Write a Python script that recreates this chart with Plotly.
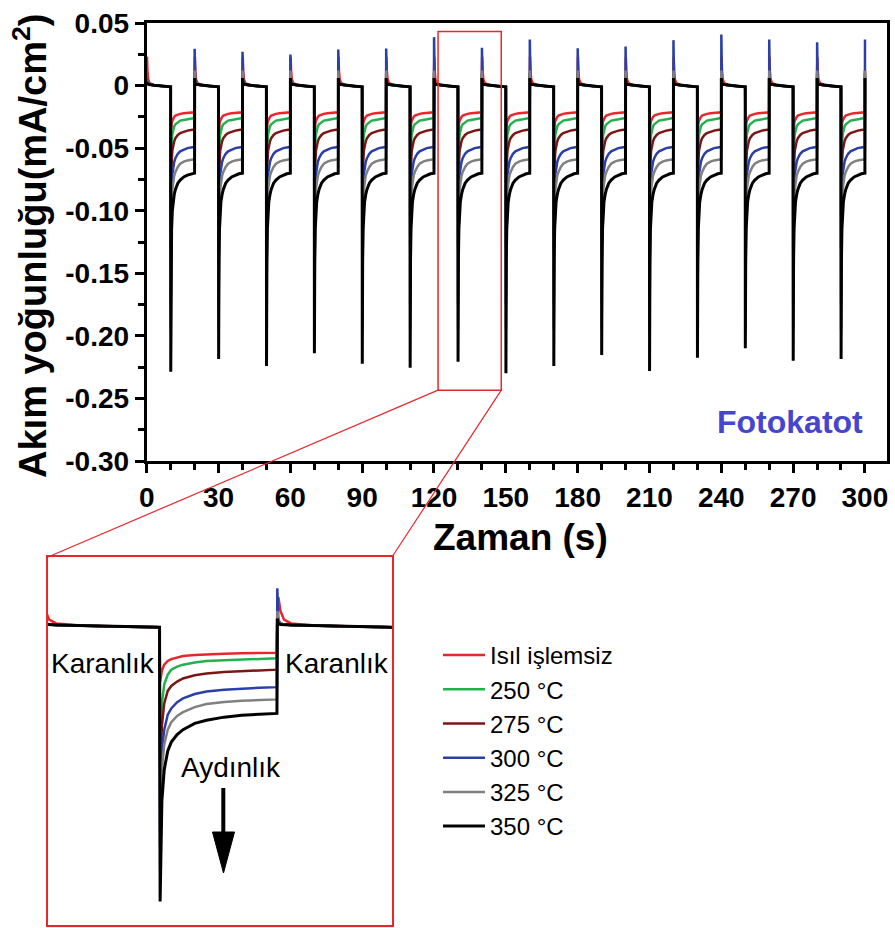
import plotly.graph_objects as go

W, H = 895, 928

# ---------------- data ----------------
series_names = ["Isıl işlemsiz", "250 °C", "275 °C", "300 °C", "325 °C", "350 °C"]
series_colors = ["#E8262B", "#22B14C", "#7A1616", "#2B3FA8", "#808080", "#000000"]

light_on = [10, 30, 50, 70, 90, 110, 130, 150, 170, 190, 210, 230, 250, 270, 290]
light_off = [20, 40, 60, 80, 100, 120, 140, 160, 180, 200, 220, 240, 260, 280, 300]

# black (350 °C) cathodic spike minimum for each light-on event
black_spike_min = [-0.2286, -0.2185, -0.2240, -0.2139, -0.2222, -0.2254, -0.2206, -0.2299,
                   -0.2240, -0.2152, -0.2280, -0.2174, -0.2099, -0.2198, -0.2185]
# blue (300 °C) anodic spike maximum for each light-off event
blue_spike_max = [0.0294, 0.0270, 0.0248, 0.0288, 0.0296, 0.0387, 0.0302, 0.0368,
                  0.0299, 0.0312, 0.0363, 0.0408, 0.0368, 0.0347, 0.0368]

# photocurrent after light on (time after light on, s)
light_t = [0.05, 0.2, 0.4, 0.7, 1.0, 1.5, 2.0, 3.0, 4.0, 5.5, 7.0, 8.5, 10.0]
light_red = [-0.045, -0.036, -0.031, -0.028, -0.0265, -0.025, -0.024, -0.0232, -0.0226, -0.0222, -0.0219, -0.0216, -0.0214]
light_green = [-0.105, -0.062, -0.047, -0.039, -0.035, -0.0325, -0.031, -0.0292, -0.028, -0.0275, -0.0268, -0.0263, -0.0259]
light_brown = [-0.130, -0.080, -0.062, -0.052, -0.048, -0.0445, -0.042, -0.0395, -0.038, -0.0368, -0.036, -0.0355, -0.0350]
light_blue = [-0.175, -0.100, -0.083, -0.071, -0.066, -0.061, -0.058, -0.0545, -0.0525, -0.051, -0.050, -0.0495, -0.0490]
light_gray = [-0.195, -0.115, -0.095, -0.083, -0.077, -0.072, -0.069, -0.065, -0.0625, -0.0608, -0.0598, -0.0592, -0.0588]
light_black = [None, -0.140, -0.115, -0.100, -0.093, -0.087, -0.083, -0.078, -0.0755, -0.073, -0.0715, -0.0705, -0.0700]

# dark current after light off (time after light off, s)
dark_t = [0.03, 0.12, 0.3, 0.6, 1.2, 3.0, 6.0, 10.0]
dark_red = [0.012, 0.023, 0.012, 0.005, 0.002, 0.0005, -0.0003, -0.001]
dark_green = [0.008, 0.004, 0.002, 0.0012, 0.0008, 0.0003, -0.0004, -0.001]
dark_brown = [0.010, 0.004, 0.002, 0.0012, 0.0008, 0.0003, -0.0004, -0.001]
dark_blue = [None, 0.005, 0.002, 0.0012, 0.0008, 0.0003, -0.0004, -0.001]
dark_gray = [0.012, 0.004, 0.002, 0.0012, 0.0008, 0.0003, -0.0004, -0.001]
dark_black = [0.006, 0.002, 0.0012, 0.001, 0.0008, 0.0003, -0.0004, -0.001]

# value of each series at t = 0
start_value = [0.022, 0.002, 0.002, 0.002, 0.002, 0.002]

light_tables = [light_red, light_green, light_brown, light_blue, light_gray, light_black]
dark_tables = [dark_red, dark_green, dark_brown, dark_blue, dark_gray, dark_black]

x_ticks = [0, 30, 60, 90, 120, 150, 180, 210, 240, 270, 300]
y_ticks = [0.05, 0, -0.05, -0.10, -0.15, -0.20, -0.25, -0.30]
y_ticktext = ["0.05", "0", "-0.05", "-0.10", "-0.15", "-0.20", "-0.25", "-0.30"]


def build_series(i):
    lt, dk = light_tables[i], dark_tables[i]
    t = [0.0]
    y = [start_value[i]]
    for tt, vv in zip(dark_t[1:], dk[1:]):
        t.append(tt)
        y.append(vv)
    for k, (ton, toff) in enumerate(zip(light_on, light_off)):
        for tt, vv in zip(light_t, lt):
            if vv is None:
                vv = black_spike_min[k]
            t.append(ton + tt)
            y.append(vv)
        last = k == len(light_on) - 1
        for tt, vv in zip(dark_t, dk):
            if vv is None:
                vv = blue_spike_max[k]
            t.append(toff + tt)
            y.append(vv)
            if last:
                break
    return t, y


# ---------------- layout geometry ----------------
X_RANGE = [0, 309.1]
Y_RANGE = [-0.30, 0.05]
XD = [146.7 / W, 886.7 / W]
YD = [1 - 461 / H, 1 - 23 / H]
IX_RANGE = [120.5, 149.8]
IY_RANGE = [-0.2394, 0.0552]
IXD = [48 / W, 392 / W]
IYD = [1 - 925 / H, 1 - 557 / H]


def px(v):
    return v / W


def py(v):
    return 1 - v / H


def data_to_paper(xv, yv):
    return (XD[0] + (xv - X_RANGE[0]) / (X_RANGE[1] - X_RANGE[0]) * (XD[1] - XD[0]),
            YD[0] + (yv - Y_RANGE[0]) / (Y_RANGE[1] - Y_RANGE[0]) * (YD[1] - YD[0]))


FONT = "Liberation Sans, Arial, sans-serif"

fig = go.Figure()
for i, name in enumerate(series_names):
    t, y = build_series(i)
    w = 3 if i == 5 else 2.5
    fig.add_trace(go.Scatter(x=t, y=y, mode="lines", name=name,
                             line=dict(color=series_colors[i], width=w),
                             xaxis="x", yaxis="y", showlegend=True))
for i, name in enumerate(series_names):
    t, y = build_series(i)
    w = 3 if i == 5 else 2.5
    fig.add_trace(go.Scatter(x=t, y=y, mode="lines", name=name,
                             line=dict(color=series_colors[i], width=w),
                             xaxis="x2", yaxis="y2", showlegend=False))

axis_common = dict(showgrid=False, zeroline=False, showline=True, linecolor="black",
                   linewidth=3, mirror=True, ticks="outside", tickwidth=3,
                   ticklen=9, tickcolor="black", automargin=False,
                   tickfont=dict(family=FONT, size=28, color="black", weight="bold"))

fig.update_layout(
    template="none",
    width=W, height=H,
    margin=dict(l=0, r=0, t=0, b=0, autoexpand=False),
    paper_bgcolor="white", plot_bgcolor="white",
    xaxis=dict(domain=XD, range=X_RANGE, tickvals=x_ticks,
               minor=dict(dtick=10, ticks="outside", ticklen=6, tickwidth=3, tickcolor="black"),
               anchor="y", **axis_common),
    yaxis=dict(domain=YD, range=Y_RANGE, tickvals=y_ticks, ticktext=y_ticktext,
               minor=dict(dtick=0.025, ticks="outside", ticklen=6, tickwidth=3, tickcolor="black"),
               anchor="x", **axis_common),
    xaxis2=dict(domain=IXD, range=IX_RANGE, showgrid=False, zeroline=False, showticklabels=False,
                ticks="", showline=True, linecolor="#E8262B", linewidth=2, mirror=True,
                anchor="y2", automargin=False),
    yaxis2=dict(domain=IYD, range=IY_RANGE, showgrid=False, zeroline=False, showticklabels=False,
                ticks="", showline=True, linecolor="#E8262B", linewidth=2, mirror=True,
                anchor="x2", automargin=False),
    legend=dict(x=px(438), y=py(633), xanchor="left", yanchor="top",
                font=dict(family=FONT, size=24, color="black"),
                bgcolor="rgba(0,0,0,0)", borderwidth=0, itemwidth=42, tracegroupgap=0),
    showlegend=True,
)

# zoom rectangle and connecting lines
RX0, RX1, RY0, RY1 = 121.7, 148.1, -0.2434, 0.0432
fig.add_shape(type="rect", xref="x", yref="y", x0=RX0, x1=RX1, y0=RY0, y1=RY1,
              line=dict(color="#E8262B", width=1.5))
bl = data_to_paper(RX0, RY0)
br = data_to_paper(RX1, RY0)
fig.add_shape(type="line", xref="paper", yref="paper", x0=bl[0], y0=bl[1], x1=IXD[0], y1=IYD[1],
              line=dict(color="#E8262B", width=1.2))
fig.add_shape(type="line", xref="paper", yref="paper", x0=br[0], y0=br[1], x1=IXD[1], y1=IYD[1],
              line=dict(color="#E8262B", width=1.2))

# arrow in inset
fig.add_shape(type="line", xref="paper", yref="paper", x0=px(223.3), y0=py(788), x1=px(223.3), y1=py(840),
              line=dict(color="black", width=4))
fig.add_shape(type="path", xref="paper", yref="paper",
              path=f"M {px(212.5)} {py(832)} L {px(234.5)} {py(832)} L {px(223.5)} {py(873)} Z",
              fillcolor="black", line=dict(color="black", width=1))

ann = []
ann.append(dict(text="Zaman (s)", x=px(520), y=py(537),
                font=dict(family=FONT, size=37, color="black", weight="bold")))
ann.append(dict(text="Akım yoğunluğu(mA/cm<sup>2</sup>)", x=px(30), y=py(246), textangle=-90,
                font=dict(family=FONT, size=38, color="black", weight="bold")))
ann.append(dict(text="Fotokatot", x=px(790), y=py(422),
                font=dict(family=FONT, size=32, color="#4646CC", weight="bold")))
for txt, xx, yy in [("Karanlık", 103, 663), ("Karanlık", 336.7, 663), ("Aydınlık", 231, 767)]:
    ann.append(dict(text=txt, x=px(xx), y=py(yy), font=dict(family=FONT, size=28, color="black")))
for a in ann:
    a.update(xref="paper", yref="paper", showarrow=False, xanchor="center", yanchor="middle")
fig.update_layout(annotations=ann)

fig.write_html("out.html", config={"displayModeBar": False},
               post_script="document.body.style.margin='0px';")
